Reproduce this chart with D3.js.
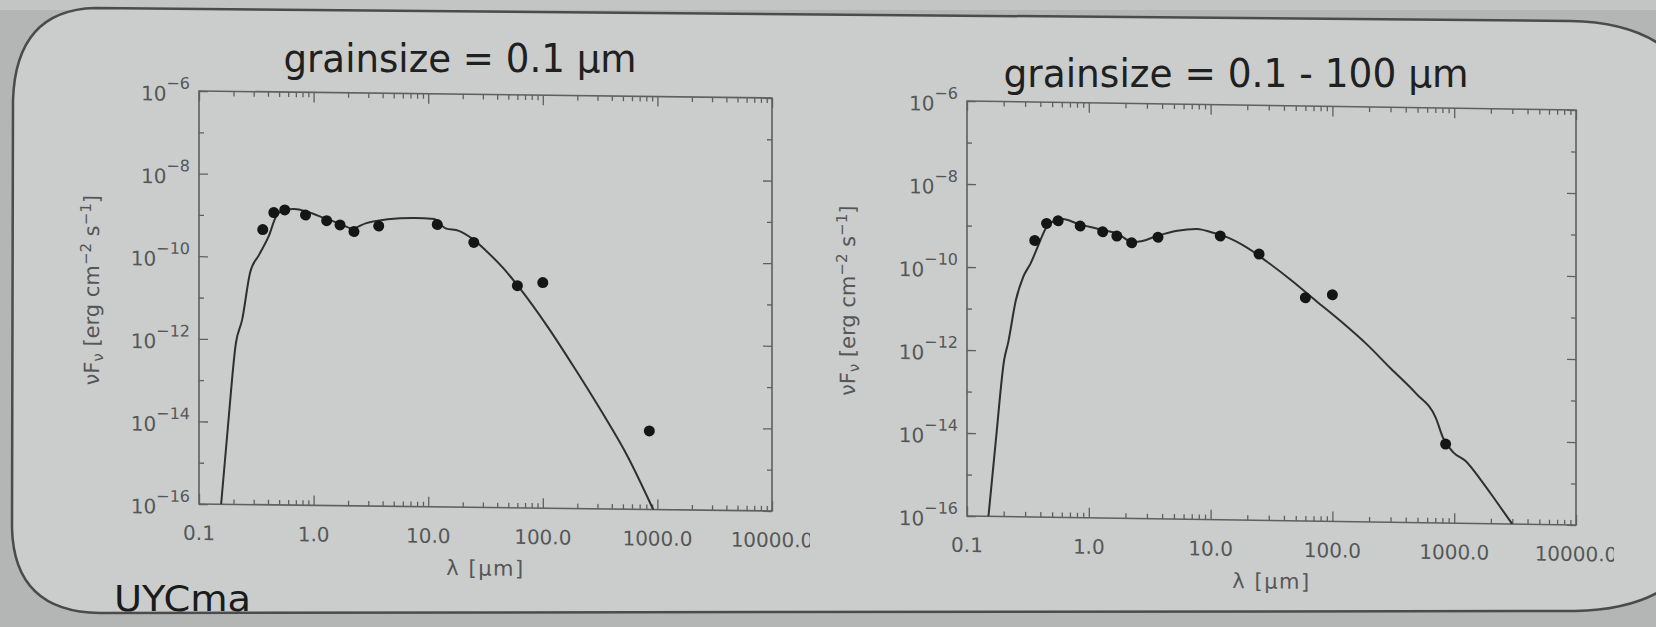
<!DOCTYPE html>
<html>
<head>
<meta charset="utf-8">
<script src="https://cdnjs.cloudflare.com/ajax/libs/d3/7.8.5/d3.min.js"></script>
<style>
  body { margin: 0; background: #b3b6b5; }
  svg { display: block; }
</style>
</head>
<body>
<div id="chart"></div>
<script>
// observed photometry (same star in both panels)
const obsWave = [0.36, 0.45, 0.56, 0.85, 1.3, 1.7, 2.25, 3.7, 12, 25, 60, 100, 850];
const obsFlux = [4.6e-10, 1.2e-9, 1.4e-9, 1.07e-9, 7.9e-10, 6.3e-10, 4.4e-10, 6.1e-10, 6.9e-10, 2.6e-10, 2.4e-11, 2.9e-11, 8e-15];

// model for grainsize = 0.1 micron
const modelAWave = [0.156, 0.179, 0.21, 0.238, 0.279, 0.334, 0.406, 0.469, 0.545, 0.681, 0.891, 1.27, 1.66, 2.17, 2.84, 4.44, 7.58, 11.3, 14.2, 18.5, 24.2, 31.6, 45.2, 64.6, 110, 188, 322, 550, 920];
const modelAFlux = [1e-16, 7.9e-15, 8.1e-13, 3.0e-12, 4.1e-11, 1.12e-10, 3.2e-10, 9.5e-10, 1.38e-9, 1.48e-9, 1.26e-9, 8.9e-10, 6.9e-10, 5.2e-10, 7.0e-10, 8.9e-10, 9.8e-10, 9.3e-10, 5.6e-10, 4.9e-10, 3.2e-10, 1.7e-10, 6.3e-11, 1.9e-11, 2.5e-12, 2.6e-13, 2.4e-14, 1.9e-15, 1e-16];

// model for grainsize = 0.1 - 100 micron
const modelBWave = [0.150, 0.173, 0.202, 0.218, 0.251, 0.289, 0.333, 0.383, 0.442, 0.508, 0.613, 0.813, 1.18, 1.73, 2.29, 2.76, 3.66, 5.33, 7.76, 10.3, 13.6, 19.9, 28.9, 46.2, 74, 118, 190, 303, 485, 706, 813, 982, 1241, 1645, 2183, 3000];
const modelBFlux = [1e-16, 7.4e-15, 6.0e-13, 1.58e-12, 1.58e-11, 6.0e-11, 1.29e-10, 3.4e-10, 8.9e-10, 1.35e-9, 1.55e-9, 1.2e-9, 9.3e-10, 7.1e-10, 4.6e-10, 4.9e-10, 6.6e-10, 8.9e-10, 1.0e-9, 8.3e-10, 6.5e-10, 3.7e-10, 1.74e-10, 6.2e-11, 2.0e-11, 6.6e-12, 1.95e-12, 5.0e-13, 1.3e-13, 3.4e-14, 1.1e-14, 5.1e-15, 3.2e-15, 1.15e-15, 3.7e-16, 1e-16];

const xTickLabels = ["0.1", "1.0", "10.0", "100.0", "1000.0", "10000.0"];
const yExponents = [-6, -8, -10, -12, -14, -16];
const titles = ["grainsize = 0.1 μm", "grainsize = 0.1 - 100 μm"];

const W = 1656, H = 627;
const ink = "#2e2f2f", axisCol = "#5d605f", labelCol = "#555757";

const svg = d3.select("#chart").append("svg")
    .attr("width", W).attr("height", H);

// slide frame from the photo
svg.append("rect").attr("width", W).attr("height", H).attr("fill", "#b3b6b5");
svg.append("rect").attr("width", W).attr("height", 10).attr("fill", "#c2c5c4");
svg.append("path")
    .attr("d", "M 95,8 L 1570,21 Q 1705,23 1710,150 L 1710,500 Q 1705,608 1575,611 L 100,613 Q 14,612 12,528 L 13,100 Q 16,10 95,8 Z")
    .attr("fill", "#cacdcc")
    .attr("stroke", "#4a4c4c")
    .attr("stroke-width", 2.5);

const panels = [
  { x0: 199, y0: 91, w: 573, h: 413, skew: 0.7, wave: modelAWave, flux: modelAFlux, title: titles[0], tx: 460, ty: 72, tw: 353, yl: -100 },
  { x0: 967, y0: 101, w: 609, h: 415, skew: 0.85, wave: modelBWave, flux: modelBFlux, title: titles[1], tx: 1236, ty: 87, tw: 465, yl: -112 }
];

panels.forEach((p, pi) => {
  svg.append("text")
      .attr("x", p.tx).attr("y", p.ty)
      .attr("text-anchor", "middle")
      .attr("font-family", "DejaVu Sans Condensed, DejaVu Sans")
      .attr("font-size", 39)
      .attr("textLength", p.tw)
      .attr("lengthAdjust", "spacingAndGlyphs")
      .attr("fill", "#1f2020")
      .text(p.title);

  const g = svg.append("g")
      .attr("transform", `translate(${p.x0},${p.y0}) skewY(${p.skew})`);

  const x = d3.scaleLog().domain([0.1, 10000]).range([0, p.w]);
  const y = d3.scaleLog().domain([1e-16, 1e-6]).range([p.h, 0]);

  const decades = x.ticks().filter(v => Math.abs(Math.log10(v) - Math.round(Math.log10(v))) < 1e-9);
  const minorX = x.ticks().filter(v => !decades.includes(v));
  const yDec = d3.range(-16, -5).map(e => Math.pow(10, e));
  const yMajor = yDec.filter(v => Math.round(Math.log10(v)) % 2 === 0);
  const yMinor = yDec.filter(v => Math.round(Math.log10(v)) % 2 !== 0);

  const styleAxis = sel => {
    sel.select(".domain").remove();
    sel.selectAll("line").attr("stroke", axisCol).attr("stroke-width", 1.3);
    sel.selectAll("text").remove();
  };

  // inward ticks on all four sides
  g.append("g").attr("transform", `translate(0,${p.h})`).call(d3.axisBottom(x).tickValues(decades).tickSize(-10)).call(styleAxis);
  g.append("g").attr("transform", `translate(0,${p.h})`).call(d3.axisBottom(x).tickValues(minorX).tickSize(-5)).call(styleAxis);
  g.append("g").call(d3.axisTop(x).tickValues(decades).tickSize(-10)).call(styleAxis);
  g.append("g").call(d3.axisTop(x).tickValues(minorX).tickSize(-5)).call(styleAxis);
  g.append("g").call(d3.axisLeft(y).tickValues(yMajor).tickSize(-9)).call(styleAxis);
  g.append("g").call(d3.axisLeft(y).tickValues(yMinor).tickSize(-5)).call(styleAxis);
  g.append("g").attr("transform", `translate(${p.w},0)`).call(d3.axisRight(y).tickValues(yMajor).tickSize(-9)).call(styleAxis);
  g.append("g").attr("transform", `translate(${p.w},0)`).call(d3.axisRight(y).tickValues(yMinor).tickSize(-5)).call(styleAxis);

  g.append("rect")
      .attr("width", p.w).attr("height", p.h)
      .attr("fill", "none").attr("stroke", axisCol).attr("stroke-width", 1.6);

  // y tick labels 10^n
  yExponents.forEach(e => {
    const t = g.append("text")
        .attr("x", -9).attr("y", y(Math.pow(10, e)) + 10)
        .attr("text-anchor", "end")
        .attr("font-family", "DejaVu Sans")
        .attr("fill", labelCol);
    t.append("tspan").attr("font-size", 20).text("10");
    t.append("tspan").attr("font-size", 16).attr("dy", -12).text("−" + Math.abs(e));
  });

  // x tick labels, last one clipped like the photo
  const clipId = "clip" + pi;
  g.append("clipPath").attr("id", clipId)
    .append("rect").attr("x", -60).attr("y", p.h).attr("width", p.w + 60 + 38).attr("height", 60);
  g.append("g").attr("clip-path", `url(#${clipId})`)
    .selectAll("text").data(decades).join("text")
      .attr("x", d => x(d)).attr("y", p.h + 36)
      .attr("text-anchor", "middle")
      .attr("font-family", "DejaVu Sans")
      .attr("font-size", 20)
      .attr("fill", labelCol)
      .text((d, i) => xTickLabels[i]);

  g.append("text")
      .attr("x", p.w / 2).attr("y", p.h + 68)
      .attr("text-anchor", "middle")
      .attr("font-family", "DejaVu Sans")
      .attr("font-size", 21)
      .attr("letter-spacing", 1.5)
      .attr("fill", labelCol)
      .text("λ [μm]");

  const yt = g.append("text")
      .attr("transform", `translate(${p.yl},${p.h / 2 - 6}) rotate(-90)`)
      .attr("text-anchor", "middle")
      .attr("font-family", "DejaVu Sans")
      .attr("font-size", 21)
      .attr("fill", labelCol);
  yt.append("tspan").text("νF");
  yt.append("tspan").attr("font-size", 15).attr("dy", 4).text("ν");
  yt.append("tspan").attr("dy", -4).text(" [erg cm");
  yt.append("tspan").attr("font-size", 15).attr("dy", -8).text("−2");
  yt.append("tspan").attr("dy", 8).text(" s");
  yt.append("tspan").attr("font-size", 15).attr("dy", -8).text("−1");
  yt.append("tspan").attr("dy", 8).text("]");

  // model curve
  const plotClip = "pclip" + pi;
  g.append("clipPath").attr("id", plotClip)
    .append("rect").attr("width", p.w).attr("height", p.h);
  const line = d3.line()
      .x((d, i) => x(p.wave[i]))
      .y((d, i) => y(p.flux[i]))
      .curve(d3.curveMonotoneX);
  g.append("path")
      .datum(p.wave)
      .attr("clip-path", `url(#${plotClip})`)
      .attr("d", line)
      .attr("fill", "none")
      .attr("stroke", ink)
      .attr("stroke-width", 2);

  // observations
  g.selectAll("circle.obs").data(obsWave).join("circle")
      .attr("class", "obs")
      .attr("cx", d => x(d))
      .attr("cy", (d, i) => y(obsFlux[i]))
      .attr("r", 5.5)
      .attr("fill", "#141515");
});

svg.append("text")
    .attr("x", 114).attr("y", 611)
    .attr("font-family", "DejaVu Sans")
    .attr("font-size", 36)
    .attr("textLength", 137)
    .attr("lengthAdjust", "spacingAndGlyphs")
    .attr("fill", "#1a1b1b")
    .text("UYCma");
</script>
</body>
</html>
